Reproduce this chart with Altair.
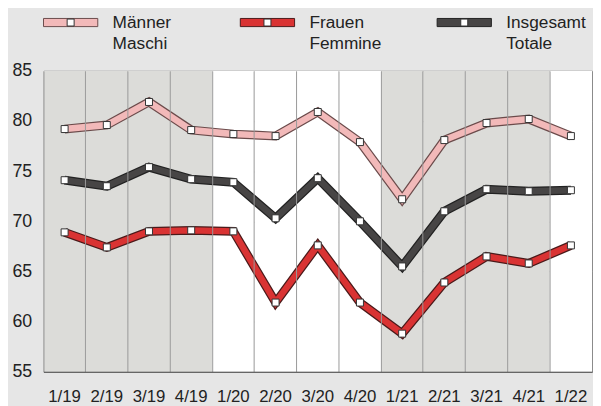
import altair as alt
import pandas as pd

# ---- data ----
quarters = ["1/19", "2/19", "3/19", "4/19", "1/20", "2/20", "3/20", "4/20",
            "1/21", "2/21", "3/21", "4/21", "1/22"]
maenner = [79.2, 79.6, 81.9, 79.1, 78.7, 78.5, 80.9, 77.9, 72.2, 78.1, 79.8, 80.2, 78.5]
frauen = [68.9, 67.4, 69.0, 69.1, 69.0, 61.9, 67.6, 61.9, 58.8, 63.9, 66.5, 65.8, 67.6]
insgesamt = [74.1, 73.5, 75.4, 74.2, 73.9, 70.3, 74.3, 70.0, 65.5, 71.0, 73.2, 73.0, 73.1]

series = ["Männer", "Frauen", "Insgesamt"]
label_line1 = ["Männer", "Frauen", "Insgesamt"]
label_line2 = ["Maschi", "Femmine", "Totale"]

inner_colors = ["#f2b9b9", "#d93333", "#474545"]
outline_colors = ["#6b4b4b", "#4a1a1a", "#222222"]

FONT = "Liberation Sans"
BG = "#e6e6e6"

# ---- tables ----
rows = []
for name, vals in zip(series, [maenner, frauen, insgesamt]):
    for q, v in zip(quarters, vals):
        rows.append({"q": q, "series": name, "value": v})
df = pd.DataFrame(rows)

bands = pd.DataFrame({
    "q": quarters,
    "shade": ["grey" if int(q.split("/")[1]) % 2 == 1 else "white" for q in quarters],
})

leg = pd.DataFrame({"series": series, "l1": label_line1, "l2": label_line2})

# ---- main chart ----
xenc = alt.X(
    "q:O", sort=quarters, title=None,
    scale=alt.Scale(paddingInner=0, paddingOuter=0),
    axis=alt.Axis(labelAngle=0, labelFont=FONT, labelFontSize=17, labelColor="#222",
                  labelPadding=17, ticks=False, domainColor="#555", domainWidth=1.2,
                  grid=True, gridColor="#999", gridWidth=1, bandPosition=0),
)
yscale = alt.Scale(domain=[55, 85], nice=False, zero=False)
yaxis = alt.Axis(values=[55, 60, 65, 70, 75, 80, 85], labelFont=FONT, labelFontSize=18,
                 labelColor="#222", labelPadding=12, ticks=False, domain=False,
                 grid=True, gridColor="#999", gridWidth=1, minExtent=35, maxExtent=35)

bg = alt.Chart(bands).mark_rect().encode(
    x=xenc,
    fill=alt.Fill("shade:N", scale=alt.Scale(domain=["grey", "white"],
                                             range=["#dcdcd9", "#ffffff"]), legend=None),
)

outline = alt.Chart(df).mark_line(strokeWidth=9, strokeJoin="miter", strokeCap="butt").encode(
    x=alt.X("q:O", sort=quarters),
    y=alt.Y("value:Q", scale=yscale, axis=yaxis, title=None),
    stroke=alt.Stroke("series:N", scale=alt.Scale(domain=series, range=outline_colors), legend=None),
)
inner = alt.Chart(df).mark_line(strokeWidth=6.5, strokeJoin="miter", strokeCap="butt").encode(
    x=alt.X("q:O", sort=quarters),
    y=alt.Y("value:Q", scale=yscale),
    color=alt.Color("series:N", scale=alt.Scale(domain=series, range=inner_colors), legend=None),
)
pts = alt.Chart(df).mark_square(size=50, fill="white", stroke="#333", strokeWidth=1, opacity=1).encode(
    x=alt.X("q:O", sort=quarters),
    y=alt.Y("value:Q", scale=yscale),
)

main = alt.layer(bg, outline, inner, pts).properties(
    width=556, height=305, view=alt.ViewBackground(stroke="#888", strokeWidth=1)
)

# ---- legend panel ----
lx = alt.X("series:N", sort=series, axis=None,
           scale=alt.Scale(type="point", domain=series, range=[27.5, 426.5], padding=0))
bar_path = "M-1,-0.15H1V0.15H-1Z"
leg_bar = alt.Chart(leg).mark_point(shape=bar_path, size=3025, filled=True, strokeWidth=1,
                                    opacity=1).encode(
    x=lx,
    fill=alt.Fill("series:N", scale=alt.Scale(domain=series, range=inner_colors), legend=None),
    stroke=alt.Stroke("series:N", scale=alt.Scale(domain=series, range=outline_colors), legend=None),
)
leg_sq = alt.Chart(leg).mark_square(size=50, fill="white", stroke="#333", strokeWidth=1,
                                    opacity=1).encode(x=lx)
leg_t1 = alt.Chart(leg).mark_text(align="left", baseline="middle", dx=42.5, dy=1, font=FONT,
                                  fontSize=17.5, color="#222").encode(x=lx, text="l1:N")
leg_t2 = alt.Chart(leg).mark_text(align="left", baseline="middle", dx=42.5, dy=22, font=FONT,
                                  fontSize=17.5, color="#222").encode(x=lx, text="l2:N")
legend = alt.layer(leg_bar, leg_sq, leg_t1, leg_t2).properties(
    width=556, height=22, view=alt.ViewBackground(stroke="transparent")
)

chart = alt.vconcat(legend, main, spacing=38, bounds="flush").resolve_scale(
    fill="independent", stroke="independent", color="independent", x="independent"
).properties(
    background=BG, padding={"left": 0, "top": 0, "right": 0, "bottom": 0}
)

chart.save("out.html", embed_options={"renderer": "svg", "actions": False})
